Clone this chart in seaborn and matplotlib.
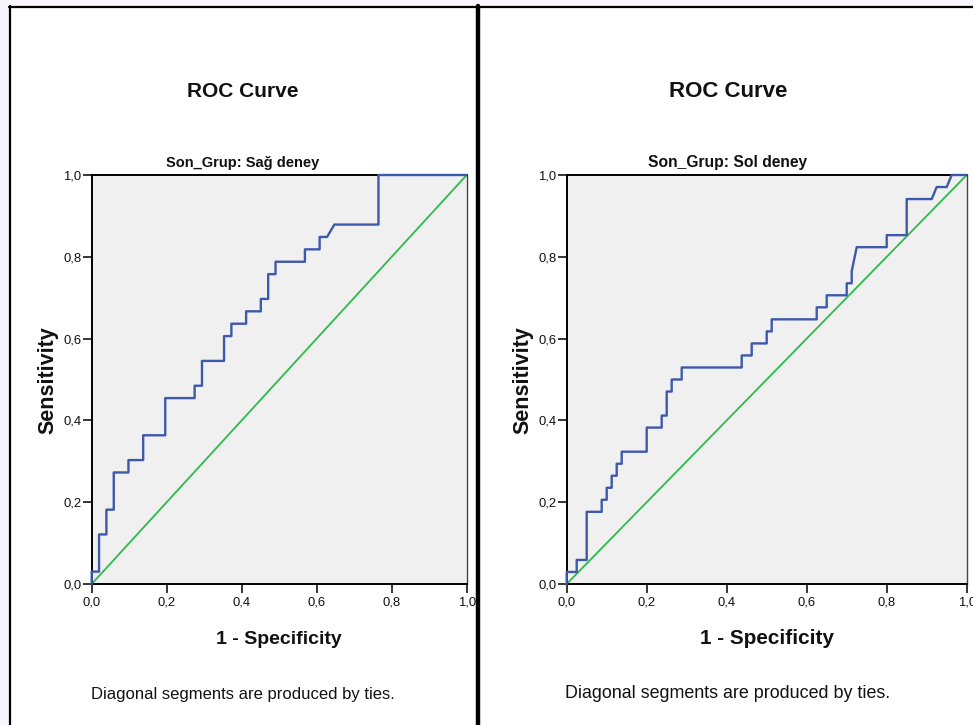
import matplotlib
matplotlib.use("Agg")
import matplotlib.pyplot as plt
from matplotlib.lines import Line2D
from matplotlib.patches import Rectangle
import seaborn as sns

# ---------------- data ----------------
TICKS = [0.0, 0.2, 0.4, 0.6, 0.8, 1.0]
TICK_LABELS = ["0,0", "0,2", "0,4", "0,6", "0,8", "1,0"]
DIAG = [0.0, 1.0]

TITLE = "ROC Curve"
SUBTITLES = ["Son_Grup: Sağ deney", "Son_Grup: Sol deney"]
XLABEL = "1 - Specificity"
YLABEL = "Sensitivity"
FOOTNOTE = "Diagonal segments are produced by ties."

# Sağ deney ROC curve vertices (1 - specificity, sensitivity)
sag_fpr = [0.0, 0.0, 0.0196, 0.0196, 0.0392, 0.0392, 0.0588, 0.0588, 0.098, 0.098,
           0.1373, 0.1373, 0.1961, 0.1961, 0.2745, 0.2745, 0.2941, 0.2941, 0.3529, 0.3529,
           0.3725, 0.3725, 0.4118, 0.4118, 0.451, 0.451, 0.4706, 0.4706, 0.4902, 0.4902,
           0.5686, 0.5686, 0.6078, 0.6078, 0.6275, 0.6471, 0.7647, 0.7647, 1.0]
sag_tpr = [0.0, 0.0303, 0.0303, 0.1212, 0.1212, 0.1818, 0.1818, 0.2727, 0.2727, 0.303,
           0.303, 0.3636, 0.3636, 0.4545, 0.4545, 0.4848, 0.4848, 0.5455, 0.5455, 0.6061,
           0.6061, 0.6364, 0.6364, 0.6667, 0.6667, 0.697, 0.697, 0.7576, 0.7576, 0.7879,
           0.7879, 0.8182, 0.8182, 0.8485, 0.8485, 0.8788, 0.8788, 1.0, 1.0]

# Sol deney ROC curve vertices
sol_fpr = [0.0, 0.0, 0.025, 0.025, 0.05, 0.05, 0.0875, 0.0875, 0.1, 0.1,
           0.1125, 0.1125, 0.125, 0.125, 0.1375, 0.1375, 0.2, 0.2, 0.2375, 0.2375,
           0.25, 0.25, 0.2625, 0.2625, 0.2875, 0.2875, 0.4375, 0.4375, 0.4625, 0.4625,
           0.5, 0.5, 0.5125, 0.5125, 0.625, 0.625, 0.65, 0.65, 0.7, 0.7,
           0.7125, 0.7125, 0.725, 0.8, 0.8, 0.85, 0.85, 0.9125, 0.925, 0.95,
           0.9625, 1.0]
sol_tpr = [0.0, 0.0294, 0.0294, 0.0588, 0.0588, 0.1765, 0.1765, 0.2059, 0.2059, 0.2353,
           0.2353, 0.2647, 0.2647, 0.2941, 0.2941, 0.3235, 0.3235, 0.3824, 0.3824, 0.4118,
           0.4118, 0.4706, 0.4706, 0.5, 0.5, 0.5294, 0.5294, 0.5588, 0.5588, 0.5882,
           0.5882, 0.6176, 0.6176, 0.6471, 0.6471, 0.6765, 0.6765, 0.7059, 0.7059, 0.7353,
           0.7353, 0.7647, 0.8235, 0.8235, 0.8529, 0.8529, 0.9412, 0.9412, 0.9706, 0.9706,
           1.0, 1.0]

# ---------------- style ----------------
sns.set_style("white")
plt.rcParams["font.family"] = ["Liberation Sans", "DejaVu Sans"]

W, H = 973, 725
BLUE = "#3e58ac"
GREEN = "#2cbb4a"
BG = "#f8f5fc"
TXT = "#111111"

fig = plt.figure(figsize=(W / 100, H / 100), dpi=100, facecolor=BG)


def fx(x):
    return x / W


def fy(y):
    return 1 - y / H


# white panel area
fig.add_artist(Rectangle((fx(10), 0), 1 - fx(10), fy(6.5), transform=fig.transFigure,
                         facecolor="white", edgecolor="none", zorder=0))
# panel borders
fig.add_artist(Line2D([fx(9), 1], [fy(6.5), fy(6.5)], transform=fig.transFigure,
                      color="black", lw=1.6, zorder=5))
fig.add_artist(Line2D([fx(9.5), fx(9.5)], [fy(6), 0], transform=fig.transFigure,
                      color="black", lw=1.6, zorder=5))
fig.add_artist(Line2D([fx(478), fx(478)], [fy(6), 0], transform=fig.transFigure,
                      color="black", lw=3.2, zorder=5))

panels = [
    dict(ax_x0=91.7, ax_x1=466.7, center=243, fpr=sag_fpr, tpr=sag_tpr,
         sub=SUBTITLES[0], k=1.0),
    dict(ax_x0=566.7, ax_x1=966.7, center=728, fpr=sol_fpr, tpr=sol_tpr,
         sub=SUBTITLES[1], k=1.07),
]
AX_TOP, AX_BOT = 175.0, 584.0

for p in panels:
    k = p["k"]
    ax = fig.add_axes([fx(p["ax_x0"]), fy(AX_BOT), (p["ax_x1"] - p["ax_x0"]) / W,
                       (AX_BOT - AX_TOP) / H])
    ax.set_facecolor("#f0f0f0")
    sns.lineplot(x=DIAG, y=DIAG, ax=ax, color=GREEN, lw=1.3, estimator=None,
                 sort=False, zorder=2)
    sns.lineplot(x=p["fpr"], y=p["tpr"], ax=ax, color=BLUE, lw=1.7, estimator=None,
                 sort=False, zorder=3, clip_on=False)
    ax.set_xlim(0, 1)
    ax.set_ylim(0, 1)
    ax.set_xticks(TICKS)
    ax.set_yticks(TICKS)
    ax.set_xticklabels(TICK_LABELS)
    ax.set_yticklabels(TICK_LABELS)
    ax.tick_params(axis="both", direction="out", length=6.5, width=1.1, color="black",
                   labelsize=9.4, labelcolor=TXT)
    ax.tick_params(axis="x", pad=2.5, bottom=True)
    ax.tick_params(axis="y", pad=0.8, left=True)
    for s in ax.spines.values():
        s.set_visible(True)
        s.set_color("black")
        s.set_linewidth(1.4)
    ax.spines["right"].set_color("#444444")
    ax.spines["right"].set_linewidth(1.0)
    ax.set_xlabel("")
    ax.set_ylabel("")

    cx_ax = (p["ax_x0"] + p["ax_x1"]) / 2
    fig.text(fx(p["center"]), fy(97.3), TITLE, ha="center", va="baseline",
             fontsize=15 * k, fontweight="bold", color=TXT)
    fig.text(fx(p["center"]), fy(167), p["sub"], ha="center", va="baseline",
             fontsize=10.5 * k, fontweight="bold", color=TXT)
    fig.text(fx(cx_ax), fy(644.5), XLABEL, ha="center", va="baseline",
             fontsize=14 * k, fontweight="bold", color=TXT)
    fig.text(fx(p["ax_x0"] - 38), fy((AX_TOP + AX_BOT) / 2 + 1), YLABEL, ha="center",
             va="baseline", rotation=90, rotation_mode="anchor", fontsize=15.5,
             fontweight="bold", color=TXT)
    fig.text(fx(p["center"]), fy(698.5), FOOTNOTE, ha="center", va="baseline",
             fontsize=12 * k, color=TXT)

fig.savefig("out.png", dpi=100, facecolor=BG)
